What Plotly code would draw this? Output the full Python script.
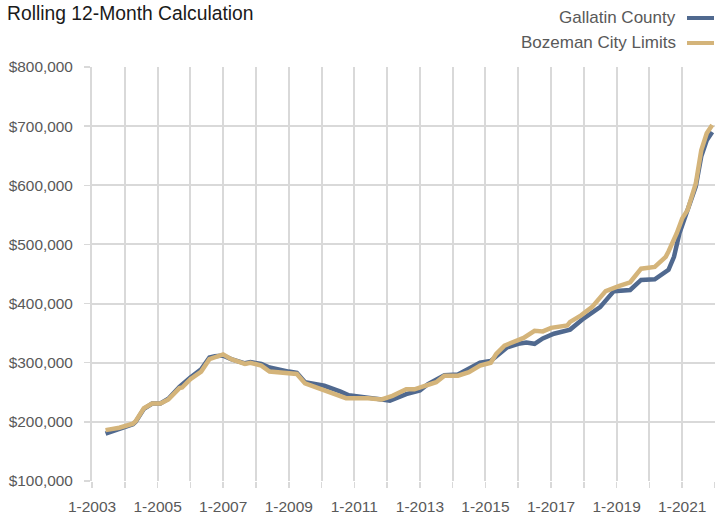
import plotly.graph_objects as go

# ---- data (values in thousands of USD) ----
gallatin_dates = ["2003-06", "2003-11", "2004-04", "2004-05", "2004-08", "2004-11", "2005-02", "2005-05",
                  "2005-09", "2006-01", "2006-05", "2006-08", "2006-10", "2007-01", "2007-04", "2007-09",
                  "2007-11", "2008-03", "2008-06", "2009-01", "2009-04", "2009-07", "2010-02", "2010-08",
                  "2010-11", "2011-06", "2012-02", "2012-08", "2012-11", "2013-01", "2013-04", "2013-10",
                  "2014-03", "2014-07", "2014-11", "2015-03", "2015-09", "2016-01", "2016-04", "2016-07",
                  "2016-10", "2017-02", "2017-07", "2017-08", "2018-01", "2018-07", "2018-12", "2019-06",
                  "2019-10", "2020-03", "2020-08", "2020-10", "2020-12", "2021-02", "2021-06", "2021-08",
                  "2021-10", "2021-12"]
gallatin_values = [180, 188, 196, 200, 222, 231, 231, 239,
                   259, 275, 289, 309, 311, 312, 306, 299,
                   301, 298, 292, 285, 283, 267, 261, 251,
                   245, 241, 236, 247, 251, 253, 264, 279,
                   280, 289, 300, 303, 326, 332, 334, 332,
                   341, 349, 354, 356, 375, 394, 421, 423,
                   440, 441, 457, 479, 519, 547, 598, 649,
                   676, 690]

bozeman_dates = ["2003-06", "2003-11", "2004-04", "2004-05", "2004-08", "2004-11", "2005-02", "2005-05",
                 "2005-09", "2005-10", "2006-01", "2006-05", "2006-08", "2006-10", "2007-01", "2007-04",
                 "2007-09", "2007-11", "2008-03", "2008-06", "2008-11", "2009-04", "2009-07", "2009-12",
                 "2010-06", "2010-10", "2011-06", "2011-11", "2012-03", "2012-08", "2012-11", "2013-01",
                 "2013-04", "2013-07", "2013-10", "2014-03", "2014-07", "2014-11", "2015-03", "2015-05",
                 "2015-08", "2015-12", "2016-03", "2016-07", "2016-10", "2017-01", "2017-07", "2017-08",
                 "2017-12", "2018-04", "2018-09", "2019-02", "2019-06", "2019-10", "2020-03", "2020-07",
                 "2020-08", "2020-11", "2021-01", "2021-03", "2021-06", "2021-08", "2021-10", "2021-12"]
bozeman_values = [186, 190, 197, 201, 223, 231, 231, 238,
                  257, 258, 272, 285, 306, 309, 314, 306,
                  298, 300, 295, 285, 283, 281, 265, 257,
                  247, 240, 240, 238, 244, 255, 255, 258,
                  262, 267, 278, 278, 284, 295, 300, 315,
                  329, 337, 342, 354, 353, 359, 363, 369,
                  380, 394, 421, 430, 436, 459, 462, 479,
                  488, 519, 544, 558, 603, 659, 688, 702]

series_names = ["Gallatin County", "Bozeman City Limits"]
series_colors = ["#50698f", "#d4b47a"]
y_tick_values = [100000, 200000, 300000, 400000, 500000, 600000, 700000, 800000]
y_tick_labels = ["$100,000", "$200,000", "$300,000", "$400,000", "$500,000", "$600,000", "$700,000", "$800,000"]

FONT = "Liberation Sans, Arial, Helvetica, sans-serif"
GRID = "#d9d9d9"
TXT = "#595959"

fig = go.Figure()
fig.add_trace(go.Scatter(x=[d + "-01" for d in gallatin_dates], y=[v * 1000 for v in gallatin_values],
                         mode="lines", name=series_names[0],
                         line=dict(color=series_colors[0], width=4.5), showlegend=False))
fig.add_trace(go.Scatter(x=[d + "-01" for d in bozeman_dates], y=[v * 1000 for v in bozeman_values],
                         mode="lines", name=series_names[1],
                         line=dict(color=series_colors[1], width=4.5), showlegend=False))

fig.update_layout(
    width=715, height=515,
    margin=dict(l=92, r=0, t=67, b=34, autoexpand=False),
    paper_bgcolor="white", plot_bgcolor="white",
    font=dict(family=FONT, color=TXT),
    title=dict(text="Rolling 12-Month Calculation", x=7 / 715, xanchor="left", xref="container",
               y=1 - 13 / 515, yanchor="middle", yref="container",
               font=dict(family=FONT, size=19.3, color="#1a1a1a")),
)

fig.update_xaxes(
    type="date", range=["2003-01-01", "2022-01-01"],
    tick0="2003-01-01", dtick="M24", tickformat="%-m-%Y",
    showgrid=True, gridcolor=GRID, gridwidth=2,
    showline=False, zeroline=False,
    ticks="outside", ticklen=6, tickcolor=GRID, tickwidth=1.5,
    ticklabelstandoff=5,
    tickfont=dict(family=FONT, size=15.5, color=TXT),
    minor=dict(dtick="M12", tick0="2003-01-01", showgrid=True, gridcolor=GRID, gridwidth=2,
               ticks="outside", ticklen=6, tickcolor=GRID, tickwidth=1.5),
)
fig.update_yaxes(
    range=[100000, 800000], tickvals=y_tick_values, ticktext=y_tick_labels,
    showgrid=True, gridcolor=GRID, gridwidth=2,
    showline=True, linecolor=GRID, linewidth=2,
    zeroline=False,
    ticks="outside", ticklen=6, tickcolor=GRID, tickwidth=1.5,
    ticklabelstandoff=8,
    tickfont=dict(family=FONT, size=15.4, color=TXT),
)

# legend drawn as right-aligned text with swatch on the right (as in the reference)
ys = [(481 - 18) / 414, (481 - 43) / 414]
for name, color, yy in zip(series_names, series_colors, ys):
    fig.add_annotation(text=name, xref="paper", yref="paper", x=(678 - 92) / 623, y=yy,
                       xanchor="right", yanchor="middle", showarrow=False,
                       font=dict(family=FONT, size=17, color=TXT))
    fig.add_shape(type="line", xref="paper", yref="paper",
                  x0=(687 - 92) / 623, x1=(714 - 92) / 623, y0=yy, y1=yy,
                  line=dict(color=color, width=4))

fig.write_html("out.html", config={"displayModeBar": False, "staticPlot": True},
               post_script="document.body.style.margin='0';document.body.style.overflow='hidden';")
